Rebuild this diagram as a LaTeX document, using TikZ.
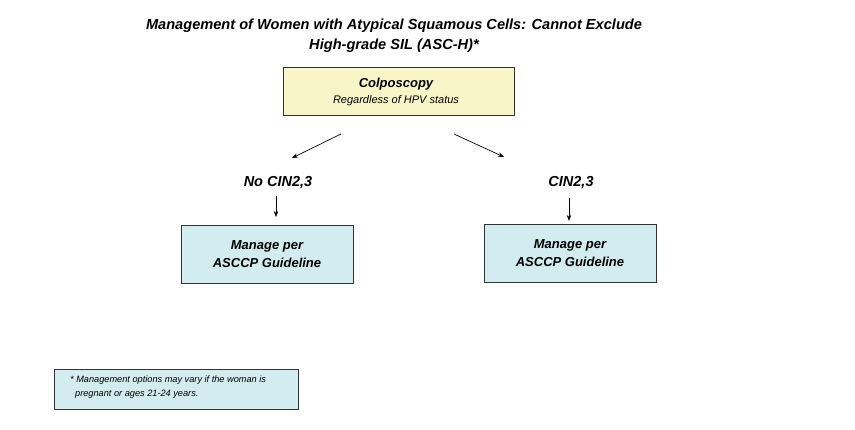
\documentclass[tikz,border=0pt]{standalone}
\usepackage{fontspec}
\setmainfont{Liberation Sans}
\usetikzlibrary{arrows.meta}
\definecolor{ybox}{HTML}{F8F5C8}
\definecolor{cbox}{HTML}{D2ECEF}
\definecolor{edge}{HTML}{333333}
\begin{document}
\begin{tikzpicture}[x=1pt,y=-1pt,
  boxstyle/.style={draw=edge,line width=0.9pt,inner sep=0pt,align=center},
  lbl/.style={font=\fontsize{14.5}{17}\selectfont\bfseries\itshape,inner sep=0pt},
  arr/.style={draw=black,line width=0.7pt,-{Stealth[length=6pt,width=4.5pt]}}]
\useasboundingbox (0,0) rectangle (855,430);
\fill[white] (0,0) rectangle (855,430);
\node[align=center,font=\fontsize{14.6}{20}\selectfont\bfseries\itshape] (title) at (394,36)
  {Management of Women with Atypical Squamous Cells: Cannot Exclude\\High-grade SIL (ASC-H)*};
\node[boxstyle,fill=ybox,minimum width=231pt,minimum height=48pt] (colpo) at (398.5,91) {};
\node[font=\fontsize{13}{15}\selectfont\bfseries\itshape,inner sep=0pt] (colpoT) at (396,84.5) {Colposcopy};
\node[font=\fontsize{11}{13}\selectfont\itshape,inner sep=0pt] (colpoS) at (396,101) {Regardless of HPV status};
\coordinate (la) at (341,134);
\coordinate (lb) at (292,158);
\coordinate (ra) at (454,134);
\coordinate (rb) at (504,157);
\draw[arr] (la) -- (lb);
\draw[arr] (ra) -- (rb);
\node[lbl] (no) at (278,183) {No CIN2,3};
\node[lbl] (yes) at (571,183) {CIN2,3};
\node[boxstyle,fill=cbox,minimum width=172pt,minimum height=58pt,
  font=\fontsize{13}{18}\selectfont\bfseries\itshape] (mL) at (267,254) {Manage per\\ASCCP Guideline};
\node[boxstyle,fill=cbox,minimum width=172pt,minimum height=58pt,
  font=\fontsize{13}{18}\selectfont\bfseries\itshape] (mR) at (570,253) {Manage per\\ASCCP Guideline};
\coordinate (n1) at (276,196);
\coordinate (n2) at (276,217);
\coordinate (y1) at (569,198);
\coordinate (y2) at (569,221);
\draw[arr] (n1) -- (n2);
\draw[arr] (y1) -- (y2);
\node[draw=edge,line width=0.9pt,fill=cbox,minimum width=244pt,minimum height=40pt] (foot) at (176,389.5) {};
\node[anchor=north west,align=left,inner sep=0pt,font=\fontsize{9.2}{13.5}\selectfont\itshape] (footT) at (70,376)
  {* Management options may vary if the woman is\\\hspace*{5pt}pregnant or ages 21-24 years.};
\end{tikzpicture}
\end{document}
